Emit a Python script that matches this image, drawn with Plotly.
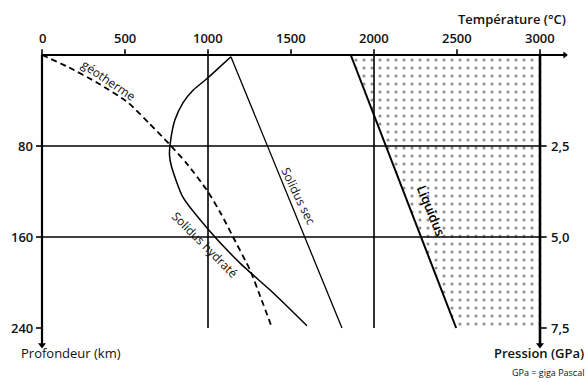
import plotly.graph_objects as go

# ---- data (temperature °C, depth km) ----
temp_ticks = [0, 500, 1000, 1500, 2000, 2500, 3000]
depth_ticks = [80, 160, 240]
depth_labels = ["80", "160", "240"]
pressure_labels = ["2,5", "5,0", "7,5"]

geo_depth = [0, 10, 25, 42, 60, 78, 95, 119, 140, 160, 189, 215, 240]
geo_temp = [0, 150, 340, 520, 645, 765, 870, 994, 1080, 1151, 1253, 1322, 1386]

hyd_depth = [1.5, 10, 20, 31, 42, 57, 75, 88, 98, 125, 152, 183, 209, 238]
hyd_temp = [1138, 1075, 1000, 910, 849, 801, 775, 768, 780, 849, 994, 1193, 1392, 1596]

sec_depth = [1.5, 240]
sec_temp = [1138, 1807]

liq_depth = [0, 240]
liq_temp = [1860, 2495]

# ---- pixel helpers for layout ----
W, H = 588, 382
X0, SX = 42, 0.166      # px at 0 °C, px per °C
Y0, SY = 55, 1.1375     # px at 0 km, px per km
xr = [-X0 / SX, (W - X0) / SX]
yr = [(H - Y0) / SY, -Y0 / SY]

def px(x):
    return x / W

def py(y):
    return 1 - y / H

FONT = "Open Sans"
fig = go.Figure()

# stippled liquid region
fig.add_trace(go.Scatter(
    x=[liq_temp[0], 3000, 3000, liq_temp[1], liq_temp[0]],
    y=[0, 0, 240, 240, 0],
    mode="lines", line=dict(width=0), fill="toself",
    fillcolor="white",
    fillpattern=dict(shape=".", fgcolor="#222", bgcolor="white", size=8, solidity=0.12),
    hoverinfo="skip", showlegend=False))

def seg(xs, ys, w=1.5, dash=None):
    fig.add_trace(go.Scatter(x=xs, y=ys, mode="lines",
                             line=dict(color="black", width=w, dash=dash),
                             hoverinfo="skip", showlegend=False))

# grid lines
for d in depth_ticks[:2]:
    seg([0, 3000], [d, d], 1.6)
for t in [1000, 2000]:
    seg([t, t], [0, 240], 1.6)

# axes
seg([0, 3150], [0, 0], 2.2)
seg([0, 0], [0, 254], 2.2)
seg([3000, 3000], [0, 254], 2.6)

# ticks
for t in temp_ticks:
    seg([t, t], [0, -5], 1.6)
for d in depth_ticks:
    seg([-36, 0], [d, d], 1.6)
    seg([3000, 3040], [d, d], 1.6)

# arrow heads
fig.add_trace(go.Scatter(x=[0, 3000], y=[255, 255], mode="markers",
                         marker=dict(symbol="triangle-down", size=7, color="black"),
                         hoverinfo="skip", showlegend=False))
fig.add_trace(go.Scatter(x=[3150], y=[0], mode="markers",
                         marker=dict(symbol="triangle-right", size=6, color="black"),
                         hoverinfo="skip", showlegend=False))

# curves
fig.add_trace(go.Scatter(x=geo_temp, y=geo_depth, mode="lines",
                         line=dict(color="black", width=1.8, dash="6px,4px",
                                   shape="spline", smoothing=0.6),
                         hoverinfo="skip", showlegend=False))
fig.add_trace(go.Scatter(x=hyd_temp, y=hyd_depth, mode="lines",
                         line=dict(color="black", width=1.5, shape="spline", smoothing=0.6),
                         hoverinfo="skip", showlegend=False))
seg(sec_temp, sec_depth, 1.3)
seg(liq_temp, liq_depth, 2.0)

ann = []
def text(x, y, s, size=13, angle=0, xanchor="center", color="#111", weight=400):
    ann.append(dict(x=px(x), y=py(y), xref="paper", yref="paper", text=s,
                    showarrow=False, textangle=angle, xanchor=xanchor, yanchor="middle",
                    font=dict(family=FONT, size=size, color=color, weight=weight)))

# top tick labels
for t in temp_ticks:
    text(X0 + t * SX, 38, str(t), 13, weight=600)
# left / right tick labels
for d, lab, plab in zip(depth_ticks, depth_labels, pressure_labels):
    text(35, Y0 + d * SY, lab, 13, xanchor="right", weight=600)
    text(549, Y0 + d * SY, plab, 13, xanchor="left", weight=600)

text(512, 19, "Température (°C)", 13, weight=600)
text(19, 353, "Profondeur (km)", 13, xanchor="left")
text(586, 353, "Pression (GPa)", 13, xanchor="right", weight=600)
text(586, 372, "GPa = giga Pascal", 9, xanchor="right")

# curve labels
text(109, 80, "géotherme", 12, angle=34, weight=500)
text(205, 244, "Solidus hydraté", 12, angle=45, weight=500)
text(299, 196, "Solidus sec", 12, angle=64, weight=500)
text(431, 210, "Liquidus", 13, angle=68, color="#000", weight=600)

fig.update_layout(
    width=W, height=H, margin=dict(l=0, r=0, t=0, b=0),
    paper_bgcolor="white", plot_bgcolor="white",
    xaxis=dict(range=xr, visible=False, fixedrange=True),
    yaxis=dict(range=yr, visible=False, fixedrange=True),
    annotations=ann, showlegend=False)

fig.write_html("out.html", config={"displayModeBar": False},
               post_script="document.body.style.margin='0';document.body.style.overflow='hidden';")
